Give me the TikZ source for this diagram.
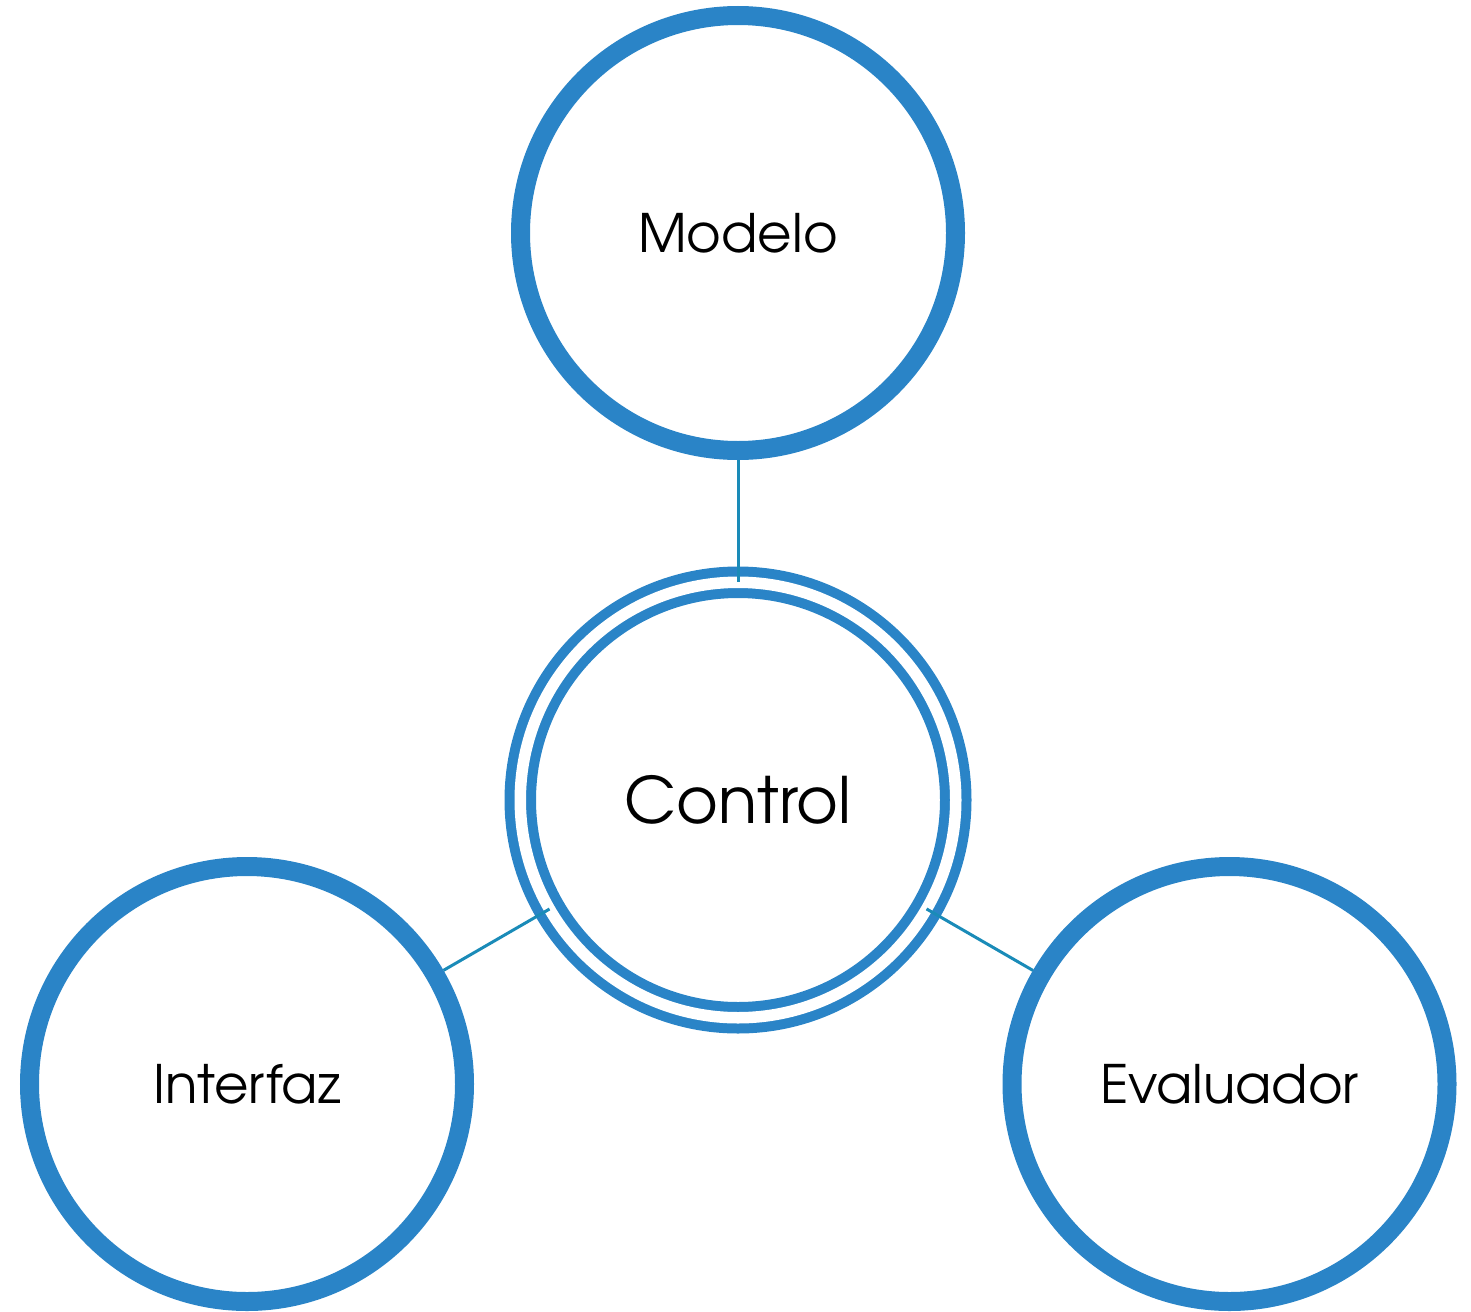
\documentclass[tikz,border=0pt]{standalone}
\usepackage{fontspec}
\setmainfont{texgyreadventor}[Extension=.otf, UprightFont=*-regular]
\usetikzlibrary{positioning}
\definecolor{ringblue}{HTML}{2A84C7}
\definecolor{linkblue}{HTML}{1A8BB8}
\tikzset{ring/.style = {shape=circle,draw=ringblue,line width=9.5pt,minimum size=217.5pt,inner sep=0pt,font=\fontsize{26.5}{31}\selectfont}}
\tikzset{hub/.style = {shape=circle,draw=ringblue,line width=5pt,double=white,double distance=5.75pt,minimum size=217.75pt,inner sep=0pt,outer sep=0pt,font=\fontsize{32}{37}\selectfont}}
\tikzset{link/.style = {draw=linkblue,line width=1.5pt}}

\begin{document}
\begin{tikzpicture}[x=0.5pt,y=-0.5pt]
  \useasboundingbox (0,0) rectangle (1471,1311);

  \node[hub] (control) at (738,800) {Control};
  \node[ring] (modelo) at (738,233) {Modelo};
  \node[ring] (interfaz) at (247,1084) {Interfaz};
  \node[ring] (evaluador) at (1229.5,1084) {Evaluador};

  \draw[link] (modelo) -- (control);
  \draw[link] (interfaz) -- (control);
  \draw[link] (evaluador) -- (control);
\end{tikzpicture}
\end{document}
